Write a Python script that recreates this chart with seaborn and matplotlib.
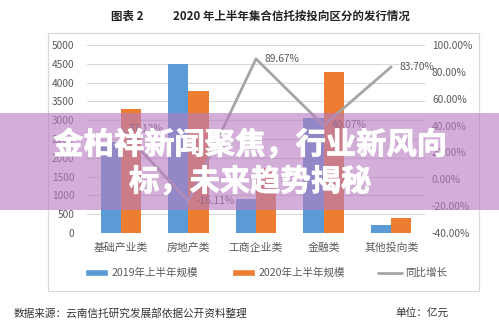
import numpy as np
import pandas as pd
import matplotlib
matplotlib.use("Agg")
import matplotlib.pyplot as plt
import matplotlib.patheffects as pe
import seaborn as sns
from matplotlib.patches import Rectangle, Patch
from matplotlib.lines import Line2D

# ---- data (亿元 / %) ----
categories = ["基础产业类", "房地产类", "工商企业类", "金融类", "其他投向类"]
scale_2019 = [2412, 4495, 907, 3052, 215]
scale_2020 = [3307, 3770, 1720, 4275, 395]
growth_pct = [37.12, -16.11, 89.67, 40.07, 83.70]
series_names = ["2019年上半年规模", "2020年上半年规模"]
growth_name = "同比增长"
left_ticks = list(range(0, 5001, 500))
right_ticks = [-40, -20, 0, 20, 40, 60, 80, 100]

BLUE, ORANGE, GREY = "#5B9BD5", "#ED7D31", "#A5A5A5"
TXT = "#595959"

sns.set_theme(style="white")
plt.rcParams["font.family"] = ["Noto Sans CJK SC", "DejaVu Sans"]

W, H = 499, 325
fig = plt.figure(figsize=(W / 100, H / 100), dpi=100)
fig.patch.set_facecolor("white")

# chart frame
fig.patches.append(Rectangle((48 / W, 1 - 291 / H), (479 - 48) / W, (291 - 33) / H,
                             transform=fig.transFigure, facecolor="white",
                             edgecolor="#D9D9D9", lw=0.9, zorder=-1))

ax = fig.add_axes([87 / W, 1 - 233 / H, (425 - 87) / W, (233 - 45) / H])
ax.set_facecolor("none")

df = pd.DataFrame({
    "类别": categories * 2,
    "规模": scale_2019 + scale_2020,
    "期间": [series_names[0]] * len(categories) + [series_names[1]] * len(categories),
})
sns.barplot(data=df, x="类别", y="规模", hue="期间", hue_order=series_names,
            palette=[BLUE, ORANGE], width=0.6, saturation=1, linewidth=0,
            legend=False, ax=ax)

ax.set_ylim(0, 5000)
ax.set_yticks(left_ticks)
ax.set_xlabel("")
ax.set_ylabel("")
ax.yaxis.grid(True, color="#D9D9D9", lw=0.8)
ax.set_axisbelow(True)
for s in ax.spines.values():
    s.set_visible(False)
ax.tick_params(axis="y", length=0, pad=9, labelsize=7.3, labelcolor=TXT)
ax.tick_params(axis="x", length=0, pad=7, labelsize=7.8, labelcolor=TXT)

# growth line on the secondary axis
ax2 = ax.twinx()
x_pos = np.arange(len(categories))
sns.lineplot(x=x_pos, y=growth_pct, ax=ax2, color=GREY, lw=2, legend=False)
ax2.set_ylim(-40, 100)
ax2.set_yticks(right_ticks)
ax2.set_yticklabels([f"{v:.2f}%" for v in right_ticks])
for s in ax2.spines.values():
    s.set_visible(False)
ax2.tick_params(axis="y", length=0, pad=5, labelsize=7.3, labelcolor=TXT)
ax2.grid(False)
ax.set_xlim(-0.5, len(categories) - 0.5)

for xi, g in zip(x_pos, growth_pct):
    ax2.annotate(f"{g:.2f}%", (xi, g), xytext=(6, 0), textcoords="offset points",
                 ha="left", va="center", fontsize=7.3, color=TXT)

# legend
handles = [Patch(facecolor=BLUE), Patch(facecolor=ORANGE), Line2D([], [], color=GREY, lw=2)]
fig.legend(handles, series_names + [growth_name], loc="center",
           bbox_to_anchor=(266 / W, 1 - 273 / H), ncol=3, frameon=False,
           fontsize=7.6, labelcolor=TXT, handlelength=2.2, handleheight=0.6,
           handletextpad=0.3, columnspacing=3.2)

# heading and footer
fig.text(127 / W, 1 - 16 / H, "图表 2", ha="center", va="center",
         fontsize=8.3, fontweight="bold", color="#222222")
fig.text(291 / W, 1 - 16 / H, "2020 年上半年集合信托按投向区分的发行情况",
         ha="center", va="center", fontsize=8.3, fontweight="bold", color="#222222")
fig.text(14 / W, 1 - 313 / H, "数据来源：云南信托研究发展部依据公开资料整理",
         ha="left", va="center", fontsize=7.7, color="#333333")
fig.text(395 / W, 1 - 313 / H, "单位：亿元", ha="left", va="center",
         fontsize=7.7, color="#333333")

# headline banner
fig.patches.append(Rectangle((0, 1 - 210 / H), 1, (210 - 113) / H,
                             transform=fig.transFigure, facecolor="#B77CC0",
                             alpha=0.62, lw=0, zorder=5))
thick = [pe.withStroke(linewidth=0.6, foreground="white")]
fig.text(250 / W, 1 - 145 / H, "金柏祥新闻聚焦，行业新风向", ha="center", va="center",
         fontsize=21.8, fontweight="bold", color="white", zorder=6, path_effects=thick)
fig.text(250 / W, 1 - 182 / H, "标，未来趋势揭秘", ha="center", va="center",
         fontsize=21.8, fontweight="bold", color="white", zorder=6, path_effects=thick)

fig.savefig("out.png", dpi=100)
